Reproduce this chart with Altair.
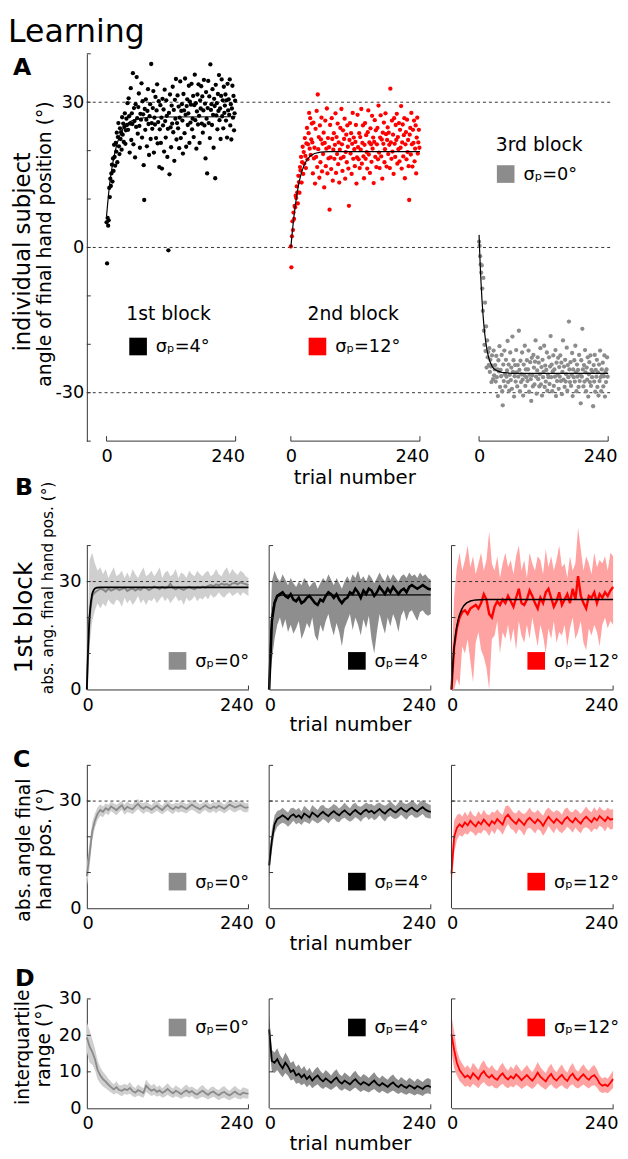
import altair as alt
import pandas as pd

FONT = "DejaVu Sans"
AX = "#333333"
GRAY = "#8c8c8c"
LIGHT = "#cfcfcf"
DARK = "#8e8e8e"
PINK = "#ffa2a2"
RED = "#ff0000"

SIG0 = "σₚ=0°"
SIG4 = "σₚ=4°"
SIG12 = "σₚ=12°"

# ---------------- Panel A: individual subject, one value per trial ----------------
block1 = [
    5.2, -3.3, 6.1, 4.5, 5.6, 12.3, 10.4, 14.2, 12.7, 15.3, 17.1, 13.6, 18.4, 15.8, 21.2, 18.7, 16.9, 21.6, 19.8, 23.7,
    17.6, 22.8, 25.7, 20.9, 19.3, 24.6, 22.4, 23.8, 20.2, 26.9, 23.3, 25.6, 21.8, 24.9, 27.7, 21.4, 24.2, 26.6, 25.3, 29.8,
    24.3, 30.8, 27.1, 19.6, 25.6, 32.9, 22.2, 27.7, 25.5, 36.0, 21.3, 28.8, 26.1, 18.6, 29.6, 24.9, 35.2, 26.7, 23.5, 29.0,
    31.8, 25.1, 20.6, 27.6, 26.4, 33.9, 22.7, 30.2, 27.5, 17.0, 9.8, 28.6, 24.3, 30.6, 26.4, 20.9, 28.2, 32.7, 25.5, 19.1,
    27.1, 29.6, 22.4, 37.9, 25.7, 24.5, 28.8, 32.3, 19.6, 26.8, 25.4, 31.1, 22.6, 28.3, 33.7, 21.5, 25.9, 30.2, 16.6, 24.4,
    29.4, 21.6, 26.8, 16.3, 30.7, 25.2, 28.5, 19.8, 32.6, 26.1, 22.7, 30.4, 27.2, 18.7, 24.5, -0.6, 27.8, 15.1, 31.6, 24.8,
    20.7, 29.3, 25.6, 33.2, 23.8, 28.4, 17.9, 30.5, 26.6, 34.8, 22.3, 25.7, 31.4, 24.6, 29.1, 20.5, 26.8, 34.3, 22.6, 28.2,
    29.6, 26.2, 19.4, 31.7, 28.3, 23.6, 34.9, 27.4, 20.8, 29.2, 30.6, 25.3, 27.7, 33.4, 21.6, 30.1, 25.8, 29.5, 33.8, 24.4,
    26.6, 31.3, 22.8, 29.4, 35.7, 26.3, 29.8, 20.4, 28.1, 31.6, 25.4, 33.7, 27.2, 21.6, 30.4, 28.7, 33.3, 25.6, 31.2, 23.7,
    28.3, 34.6, 25.2, 29.7, 18.4, 32.1, 26.6, 15.3, 28.8, 34.4, 25.7, 31.2, 22.6, 37.8, 28.4, 29.6, 25.3, 32.7, 27.4, 20.6,
    30.7, 29.2, 14.3, 33.6, 27.3, 29.8, 24.4, 31.7, 28.2, 35.6, 26.3, 28.7, 22.4, 31.3, 34.7, 27.1, 30.4, 24.6, 33.2, 27.8,
    29.3, 31.6, 26.2, 30.4, 22.7, 33.8, 28.3, 30.6, 27.4, 34.7, 25.2, 29.6, 22.3, 28.7, 33.4, 26.8, 31.3, 24.2, 27.7, 30.3,
]
block2 = [
    0.2, -4.1, 2.3, 5.4, 3.6, 7.2, 5.9, 8.6, 8.3, 10.7, 10.2, 12.6, 11.4, 9.1, 14.8, 13.5, 11.3, 16.6, 15.9, 18.7,
    13.4, 17.6, 20.8, 15.2, 19.7, 17.3, 22.6, 18.9, 16.4, 21.5, 24.7, 18.2, 21.3, 23.6, 27.8, 20.4, 26.7, 19.1, 22.3, 25.6,
    21.7, 15.3, 25.8, 18.4, 20.6, 13.2, 24.5, 18.7, 28.2, 16.6, 31.6, 20.3, 22.8, 14.4, 25.2, 17.6, 22.3, 26.8, 15.7, 21.4,
    19.3, 23.7, 12.4, 21.6, 26.2, 16.8, 20.4, 28.7, 15.3, 22.6, 18.4, 20.7, 7.8, 25.3, 18.6, 16.2, 26.7, 22.4, 13.8, 20.2,
    23.6, 18.3, 21.2, 27.7, 15.4, 22.8, 19.3, 25.6, 17.2, 21.7, 13.4, 20.2, 24.7, 18.4, 28.6, 21.3, 15.8, 24.2, 18.7, 22.4,
    26.6, 14.2, 19.7, 23.3, 17.6, 25.2, 20.8, 16.3, 8.6, 22.2, 25.7, 19.4, 23.6, 15.2, 21.4, 27.8, 18.3, 22.7, 20.3, 16.8,
    21.8, 25.3, 13.2, 18.6, 27.4, 20.7, 18.2, 23.6, 16.4, 22.8, 20.2, 28.6, 17.3, 21.6, 25.2, 18.8, 14.3, 21.2, 25.7, 18.3,
    23.2, 19.7, 16.3, 23.8, 28.3, 19.2, 21.7, 15.4, 24.6, 21.3, 17.7, 27.2, 20.4, 22.7, 13.3, 21.8, 26.3, 18.7, 24.2, 16.6,
    21.3, 24.7, 18.2, 29.3, 19.6, 16.4, 22.7, 27.3, 18.8, 22.3, 14.2, 23.7, 21.4, 25.8, 17.6, 20.3, 27.7, 23.4, 16.7, 22.2,
    24.8, 19.3, 23.7, 21.2, 16.4, 32.8, 21.7, 18.3, 26.2, 19.8, 23.3, 15.2, 26.7, 21.4, 18.7, 25.3, 22.2, 27.6, 17.3, 22.8,
    20.3, 25.7, 17.8, 24.3, 20.6, 29.2, 16.3, 21.7, 25.4, 18.8, 23.2, 26.7, 14.3, 21.3, 23.8, 18.2, 26.4, 19.7, 22.2, 16.8,
    9.8, 23.3, 24.7, 19.2, 27.8, 21.3, 16.7, 24.3, 21.6, 26.2, 17.8, 20.4, 25.2, 15.3, 22.7, 26.8, 19.4, 21.7, 24.3, 20.6,
]
block3 = [
    1.2, 0.3, -1.8, -3.5, -5.2, -3.7, -8.5, -13.1, -6.3, -17.2, -20.1, -11.4, -21.4, -16.3, -24.8, -19.2, -22.7, -21.6, -24.3, -20.8,
    -25.7, -23.2, -24.6, -27.8, -22.3, -24.4, -27.2, -21.3, -26.4, -25.2,
    -24.3, -27.7, -22.4, -26.8, -25.2, -30.7, -23.3, -25.6, -20.4, -28.8, -25.3, -26.6, -22.2, -29.7, -32.6, -24.2, -27.6, -21.3, -26.2, -28.7,
    -23.2, -26.7, -25.4, -19.3, -27.8, -24.2, -29.6, -26.3, -21.7, -27.4, -24.8, -29.2, -18.4, -25.7, -23.3, -30.8, -26.6, -24.3, -27.7, -21.2,
    -25.8, -28.7, -24.3, -26.7, -17.2, -25.3, -29.7, -23.4, -27.8, -26.2, -21.7, -27.3, -30.6, -24.2, -26.4, -20.3, -28.6, -25.2, -26.8, -23.3,
    -27.6, -25.2, -21.3, -29.8, -26.3, -23.7, -27.2, -31.7, -22.8, -26.4, -28.7, -22.2, -24.8, -28.3, -23.6, -19.2, -26.7, -30.2, -25.4, -22.7,
    -27.2, -23.8, -28.7, -26.2, -20.8, -28.3, -24.7, -30.6, -23.2, -26.8, -25.7, -20.3, -28.8, -24.4, -27.7, -25.3, -21.7, -29.6, -26.3, -26.8,
    -22.7, -28.2, -24.6, -18.3, -26.8, -24.2, -29.7, -25.6, -22.3, -28.6, -25.2, -26.7, -21.2, -30.7, -23.8, -27.6, -26.3, -22.8, -29.2, -24.7,
    -26.7, -22.3, -27.6, -23.8, -30.3, -25.7, -19.2, -27.3, -24.6, -28.8, -23.2, -27.7, -26.2, -20.7, -29.6, -24.3, -26.8, -15.3, -25.2, -27.8,
    -23.7, -28.6, -26.3, -21.8, -30.7, -25.2, -26.8, -23.3, -27.7, -20.3, -25.8, -29.7, -24.2, -26.7, -25.3, -28.8, -22.2, -27.6, -26.3, -32.2,
    -23.3, -26.7, -16.8, -25.2, -28.7, -24.3, -27.7, -21.2, -25.8, -29.7, -24.8, -27.3, -22.7, -30.8, -26.2, -23.7, -27.8, -22.3, -28.6, -25.3,
    -26.8, -25.7, -32.8, -24.3, -27.7, -22.2, -29.8, -25.3, -26.7, -23.2, -28.8, -25.8, -30.6, -24.2, -27.6, -21.3, -26.8, -29.7, -25.2, -26.3,
    -23.8, -28.7, -26.6, -22.3, -30.8, -25.7, -27.8, -25.2, -22.7, -26.7,
]
fitA1_t = [0, 2, 4, 6, 8, 10, 13, 16, 20, 25, 30, 36, 44, 55, 70, 100, 240]
fitA1_v = [6.5, 9, 11.3, 13.3, 15, 16.4, 18.3, 19.9, 21.6, 23.2, 24.4, 25.3, 26, 26.5, 26.8, 26.95, 27]
fitA2_t = [0, 2, 4, 6, 8, 10, 13, 16, 20, 25, 30, 36, 44, 55, 70, 240]
fitA2_v = [0, 2.4, 4.6, 6.6, 8.4, 10, 12.1, 13.8, 15.6, 17.1, 18.1, 18.9, 19.4, 19.7, 19.8, 19.8]
fitA3_t = [0, 1, 2, 3, 4, 5, 6, 7, 8, 9, 10, 12, 14, 16, 18, 20, 24, 28, 34, 42, 60, 240]
fitA3_v = [2.6, -0.5, -3.3, -5.8, -8, -10, -11.8, -13.4, -14.8, -16.1, -17.3, -19.2, -20.7, -21.9,
           -22.8, -23.5, -24.5, -25.1, -25.5, -25.8, -26, -26]

# ---------------- Panel B: 1st block, group (sampled every 4 trials) ----------------
B1_mean = [0, 20, 26, 27, 27.5, 28, 27.8, 27.2, 28, 27.5,
           27.8, 28.2, 27.6, 27.9, 28.3, 27.4, 27.8, 28.1, 27.5, 28,
           27.7, 28.4, 28.2, 27.6, 28, 28.6, 28.3, 27.9, 28.5, 28.1,
           28.4, 29.4, 28.2, 27.8, 28.3, 28, 27.7, 28.2, 28.5, 28.1,
           27.9, 28.4, 28.2, 28.6, 28.3, 28.8, 29, 28.7, 29.2, 28.9,
           29.4, 29.1, 29.3, 28.9, 29.5, 29.6, 29.2, 29.8, 29.5, 29.3, 29]
B1_hi = [5, 36, 38, 35, 33, 34, 32, 33.5, 31, 32.5,
         34, 31.5, 32, 33, 31, 32.5, 31, 33.5, 32, 31,
         32.5, 34, 31.5, 32, 33, 31.5, 32.5, 34, 31, 32.5,
         33, 31.5, 32, 33.5, 31, 32.5, 32, 31, 33, 32,
         31.5, 33, 32, 31.5, 32.5, 33, 31.5, 32, 33.5, 32,
         31.5, 33, 34, 32, 33.5, 32.5, 31.8, 33, 32.5, 31.5, 31]
B1_lo = [0, 12, 19, 22, 24, 22.5, 24, 23, 25, 24,
         23.5, 25, 24.5, 23, 25.5, 24, 25, 23.5, 24.5, 26,
         24, 25, 23.5, 25, 24.5, 25.5, 24, 25, 26, 24.5,
         25.5, 24, 25, 26, 24.5, 25, 23.5, 25.5, 24.5, 25,
         26, 24.5, 25.5, 25, 26, 25, 26.5, 25.5, 26, 27,
         26, 25.5, 26.5, 27, 26, 26.5, 27, 26, 27, 26.5, 26]
B2_mean = [0, 19, 24, 26, 26.5, 27, 26, 25.5, 26.5, 25,
           24.5, 25.5, 24, 24.5, 25.5, 26, 25, 24, 23.5, 25,
           24.5, 26, 27, 26.5, 25.5, 26.5, 25, 24, 25, 25.5,
           27, 26.5, 28, 27, 25.5, 27.5, 26.5, 28, 27.5, 26,
           27, 28.5, 27.5, 26.5, 28, 27, 28.5, 27.5, 26.5, 27.5,
           28, 27, 28.5, 29, 28.5, 28, 28.5, 29, 28.5, 28, 27.8]
B2_hi = [4, 30, 33, 31, 30, 32, 30.5, 29, 31, 29.5,
         28.5, 30, 29, 31, 30, 28.5, 29.5, 30, 28, 29.5,
         31, 30, 32, 30.5, 29, 31, 29.5, 28, 30, 31.5,
         30, 32, 31, 33, 30.5, 31.5, 30, 32, 31, 29.5,
         31, 32.5, 31, 30, 32, 30.5, 32, 31, 30, 31.5,
         32, 31, 32.5, 31.5, 32, 31, 32.5, 31.5, 32, 31, 30.5]
B2_lo = [0, 8, 14, 18, 20, 17, 19.5, 16, 18, 15.5,
         17, 19, 14, 16, 18.5, 17, 20, 15, 13.5, 18,
         16, 19, 21, 17.5, 15, 18.5, 16, 12, 17, 19,
         21, 16.5, 20, 18, 15, 19.5, 17, 20.5, 14, 10,
         16, 21, 18, 15.5, 20, 17.5, 21, 19, 16, 20.5,
         22, 19, 21.5, 22, 20.5, 19, 21.5, 22, 21, 20.5, 21]
B3_mean = [0, 12, 17, 20, 21.5, 22, 21, 22.5, 23, 23.5,
           22.5, 24, 26.5, 25, 21, 20, 23, 24.5, 23.5, 25,
           24, 26, 24.5, 23, 25.5, 28, 24, 23.5, 25, 27.5,
           26, 24, 22.5, 25.5, 24, 27, 28, 25.5, 23, 24.5,
           27, 23.5, 25, 26.5, 24, 28, 25, 31.5, 26, 24,
           22.5, 26, 25.5, 27, 24, 26.5, 25.5, 27, 26, 27.5, 28.5]
B3_hi = [5, 26, 34, 38, 33, 36, 40, 34, 37, 32,
         35, 38, 33, 36, 44, 35, 33, 37, 31, 35,
         38, 34, 36, 32, 37, 40, 33, 36, 31, 38,
         35, 33, 37, 36, 32, 39, 34, 37, 33, 36,
         40, 34, 35, 31, 37, 33, 35, 45, 39, 33,
         37, 35, 32, 38, 34, 36, 35, 37, 33, 38, 37]
B3_lo = [0, 0, 3, 1, 12, 10, 14, 8, 2, 13,
         16, 11, 9, 6, 0, 14, 15, 19, 10, 16,
         14, 18, 13, 17, 11, 19, 15, 13, 18, 14,
         20, 16, 12, 18, 15, 10, 17, 14, 19, 13,
         16, 15, 18, 12, 17, 20, 14, 16, 19, 13,
         11, 17, 15, 18, 16, 12, 18, 20, 17, 19, 18]
fitB1_t = [0, 1, 2, 3, 4, 5, 6, 8, 10, 12, 15, 20, 240]
fitB1_v = [0, 6.5, 12, 16.5, 20, 22.5, 24.3, 26.6, 27.6, 28.1, 28.3, 28.4, 28.4]
fitB2_t = [0, 1, 2, 3, 4, 5, 6, 8, 10, 13, 18, 240]
fitB2_v = [0, 7, 12.5, 16.3, 19.2, 21.2, 22.7, 24.5, 25.4, 25.9, 26.2, 26.3]
fitB3_t = [0, 1, 2, 3, 4, 6, 8, 10, 12, 15, 18, 22, 28, 36, 50, 240]
fitB3_v = [0, 3.5, 6.7, 9.4, 11.7, 15.2, 17.7, 19.5, 20.8, 22.2, 23.2, 24, 24.6, 24.9, 25, 25]

# ---------------- Panel C: abs. angle final hand pos. (mean and spread) ----------------
C1_mean = [9, 15, 21.5, 24.5, 26.5, 27.5, 27, 28, 27.5, 28.5,
           28, 27.5, 28.2, 28.8, 27.6, 28.4, 28, 27.7, 28.6, 29.2,
           28.3, 27.9, 28.5, 28.1, 27.6, 28.2, 28.7, 28, 27.5, 28.3,
           28.9, 28.1, 27.7, 28.4, 28, 28.6, 28.2, 27.8, 28.4, 29,
           28.5, 28.1, 27.7, 28.3, 28.8, 28.2, 27.9, 28.5, 28.1, 28.7,
           28.3, 27.8, 28.4, 29, 28.6, 28.2, 28.5, 28.9, 28.4, 28.1, 28.3]
C1_sd = [3, 3.5, 2.5, 2, 1.8, 1.6, 1.5, 1.4, 1.5, 1.3, 1.4, 1.5, 1.3, 1.2, 1.4, 1.5, 1.3, 1.4, 1.6, 1.4,
         1.3, 1.5, 1.4, 1.2, 1.3, 1.5, 1.4, 1.3, 1.2, 1.4, 1.5, 1.3, 1.4, 1.2, 1.3, 1.5, 1.4, 1.3, 1.2, 1.4,
         1.3, 1.5, 1.4, 1.2, 1.3, 1.4, 1.2, 1.3, 1.5, 1.4, 1.3, 1.2, 1.4, 1.3, 1.5, 1.4, 1.2, 1.3, 1.4, 1.3, 1.2]
C2_mean = [12, 19, 23.5, 25, 25.5, 26, 25.5, 24.8, 25.8, 26.3,
           25.5, 26, 25.2, 26.5, 26, 25.4, 26.8, 26.2, 25.6, 26.4,
           27, 26.3, 25.8, 26.6, 27.2, 26.5, 26, 26.8, 27.4, 26.7,
           26.1, 26.9, 27.5, 26.8, 26.3, 27.1, 27.6, 26.9, 27.3, 26.6,
           27.2, 27.8, 27, 26.5, 27.3, 27.9, 27.2, 26.8, 27.5, 28.1,
           27.4, 27, 27.7, 28.2, 27.5, 27.1, 27.8, 28.3, 27.6, 27.2, 27]
C2_sd = [3, 3, 2.5, 2.2, 2, 2.1, 1.9, 2, 2.2, 1.8, 2, 2.1, 1.9, 2.2, 2, 1.8, 2.1, 2, 1.9, 2.2,
         2, 1.8, 2.1, 1.9, 2, 2.2, 1.9, 1.8, 2.1, 2, 1.9, 2.2, 2, 1.8, 2.1, 1.9, 2, 2.2, 1.9, 2,
         2.1, 1.8, 2, 2.2, 1.9, 2.1, 2, 1.8, 2.1, 1.9, 2, 2.2, 1.9, 2, 2.1, 1.8, 2, 1.9, 2.1, 2, 1.9]
C3_mean = [9.7, 20, 22.5, 23.5, 22.8, 24, 23.2, 24.5, 23.6, 22.9,
           24.2, 23.5, 24.8, 23.9, 23.1, 24.4, 23.7, 25, 24.2, 23.4,
           25.4, 26.2, 25.1, 24.3, 23.6, 24.9, 24.1, 23.3, 24.6, 25.3,
           24.5, 23.8, 24.9, 24.2, 23.1, 24.4, 25.6, 24.7, 23.9, 25,
           24.3, 23.6, 24.8, 25.5, 24.6, 24, 25.2, 24.4, 23.7, 24.9,
           25.6, 24.8, 24.1, 25.3, 24.6, 25.8, 25.1, 24.4, 25.5, 24.8, 25]
C3_sd = [4, 4.5, 3.5, 3, 2.8, 3, 2.6, 2.9, 2.5, 2.7, 3, 2.6, 2.8, 2.5, 2.9, 2.6, 3, 2.7, 2.5, 2.8,
         3.1, 2.6, 2.8, 2.5, 2.9, 2.7, 2.6, 3, 2.5, 2.8, 2.6, 2.9, 2.7, 2.5, 2.8, 3, 2.6, 2.7, 2.9, 2.5,
         2.8, 2.6, 3, 2.7, 2.5, 2.9, 2.6, 2.8, 2.7, 2.5, 2.9, 2.6, 2.8, 3, 2.6, 2.7, 2.5, 2.9, 2.6, 2.8, 2.7]

# ---------------- Panel D: interquartile range ----------------
D1_mean = [19.5, 17, 15.5, 13.5, 10.5, 9, 8, 7.3, 6.5, 5.8,
           5.2, 5.8, 5, 4.8, 5.3, 5, 5.6, 4.7, 4.3, 5,
           4.6, 4.2, 6.2, 5.4, 4.8, 5.2, 4.5, 4.9, 4.2, 4.7,
           5.3, 4.6, 4.1, 4.8, 4.4, 3.9, 4.5, 4.9, 4.3, 4.7,
           4.1, 3.8, 4.4, 4.8, 4.2, 3.7, 4.3, 4.6, 4, 3.6,
           4.2, 4.5, 3.9, 3.5, 4.1, 4.6, 4, 3.7, 4.3, 4.1, 4]
D1_sd = [4, 4.5, 3.5, 3, 2.6, 2.2, 2, 1.8, 1.6, 1.5, 1.4, 1.6, 1.3, 1.5, 1.4, 1.3, 1.6, 1.4, 1.3, 1.5,
         1.4, 1.3, 1.7, 1.5, 1.4, 1.5, 1.3, 1.4, 1.3, 1.5, 1.6, 1.4, 1.3, 1.5, 1.4, 1.3, 1.5, 1.6, 1.4, 1.3,
         1.4, 1.3, 1.5, 1.6, 1.4, 1.3, 1.5, 1.4, 1.3, 1.4, 1.5, 1.6, 1.4, 1.3, 1.5, 1.6, 1.4, 1.3, 1.5, 1.4, 1.3]
D2_mean = [21.6, 13, 12.5, 13.5, 12, 11, 12.5, 11.5, 10, 10.5,
           9, 9.5, 8.5, 9.2, 8, 8.8, 7.6, 8.4, 9, 8,
           7.4, 8.2, 7.6, 7, 7.8, 8.4, 7.3, 6.8, 7.6, 7.1,
           6.6, 7.4, 8, 7.1, 6.5, 7.2, 6.8, 6.3, 7, 7.6,
           6.7, 6.2, 6.9, 6.4, 5.9, 6.6, 7.1, 6.3, 5.8, 6.5,
           6, 5.6, 6.3, 5.9, 5.4, 6.1, 5.7, 5.3, 6, 6.2, 5.8]
D2_sd = [4, 3, 2.8, 3, 2.6, 2.5, 2.8, 2.6, 2.4, 2.5, 2.3, 2.5, 2.2, 2.4, 2.2, 2.3, 2.1, 2.3, 2.4, 2.2,
         2.1, 2.3, 2.2, 2, 2.2, 2.3, 2.1, 2, 2.2, 2.1, 2, 2.2, 2.3, 2.1, 2, 2.2, 2.1, 2, 2.1, 2.3,
         2.1, 2, 2.1, 2, 1.9, 2.1, 2.2, 2, 1.9, 2.1, 2, 1.9, 2.1, 2, 1.9, 2.1, 2, 1.9, 2, 2.1, 2]
D3_mean = [20.3, 16, 12.5, 10.5, 9.5, 8.5, 9, 8.2, 9.6, 8.8,
           8, 9.4, 10.2, 9, 8.4, 9.1, 8.2, 7.8, 8.9, 9.6,
           8.5, 7.9, 8.8, 8.2, 9.3, 8.6, 7.7, 8.4, 9.1, 8.3,
           7.6, 8.5, 9.8, 8.7, 8, 7.4, 8.6, 9.4, 8.2, 7.6,
           8.5, 9.2, 8.1, 7.5, 8.8, 9.5, 8.3, 7.7, 8.6, 9.3,
           8.4, 7.8, 8.7, 9.1, 8.2, 6.8, 6.2, 6.5, 6.1, 7, 8]
D3_sd = [5, 5, 3.5, 3, 2.8, 2.6, 2.8, 2.5, 2.9, 2.7, 2.5, 2.8, 3, 2.7, 2.5, 2.8, 2.6, 2.4, 2.7, 2.9,
         2.6, 2.4, 2.7, 2.5, 2.8, 2.6, 2.4, 2.6, 2.8, 2.5, 2.3, 2.6, 2.9, 2.6, 2.4, 2.3, 2.6, 2.8, 2.5, 2.3,
         2.6, 2.8, 2.5, 2.3, 2.6, 2.9, 2.5, 2.3, 2.6, 2.8, 2.5, 2.4, 2.6, 2.8, 2.5, 2.2, 2, 2.1, 2, 2.2, 2.4]

TRIALS4 = list(range(0, 241, 4))
Y_TICKS_A = [-40, -30, -20, -10, 0, 10, 20, 30, 40]

# ---------------- layout constants (pixels inside each row) ----------------
A_H, A_W, A_ROW_W = 393, 131, 532
A_OFF = [20, 207, 398]            # where trial 0 of each block sits
P_W = 164                          # panel width in rows B-D
P_OFF = [0, 185, 370]              # left edge of each panel in rows B-D


# ---------------- helpers ----------------
def txt(text, x, y, size, angle=0, align="left", baseline="middle", weight="normal"):
    return alt.Chart(pd.DataFrame({"t": [text]})).mark_text(
        align=align, baseline=baseline, angle=angle, fontSize=size,
        fontWeight=weight, font=FONT, color="black"
    ).encode(text="t:N", x=alt.value(x), y=alt.value(y))


def legend(color, label, x, y, size=18, gap=18):
    sq = alt.Chart(pd.DataFrame({"a": [0]})).mark_square(
        size=320, color=color, opacity=1).encode(x=alt.value(x), y=alt.value(y))
    return [sq, txt(label, x + gap, y + 1, size)]


def vline(x, h):
    return alt.Chart(pd.DataFrame({"a": [0]})).mark_rule(color=AX, strokeWidth=1).encode(
        x=alt.value(x), y=alt.value(0), y2=alt.value(h))


# ---------------- Row A ----------------
yA = alt.Scale(domain=[-40, 40], nice=False, zero=False)
yaxA = alt.Axis(values=[-30, 0, 30], ticks=False, domain=True, labelFontSize=18, labelPadding=3,
                title=None, labelExpr="replace(datum.label, '\u2212', '-')")


def YA(f):
    return alt.Y(f, scale=yA, axis=yaxA)


def a_panel(vals, color, fit_t, fit_v, off, title):
    xs = alt.Scale(domain=[-4, 240], range=[off - 4 * A_W / 240, off + A_W], nice=False, zero=False)
    xax = alt.Axis(values=[0, 240], domain=False, ticks=False, labelFontSize=18, labelPadding=7,
                   labelFlush=True, labelFlushOffset=9, orient="bottom",
                   title=title, titleFontSize=20, titlePadding=2, titleFontWeight="normal")

    def X(f):
        return alt.X(f, scale=xs, axis=xax)

    df = pd.DataFrame({"trial": list(range(len(vals))), "val": vals})
    pts = alt.Chart(df).mark_circle(size=19, color=color, opacity=1).encode(
        x=X("trial:Q"), y=YA("val:Q"))
    fit = alt.Chart(pd.DataFrame({"t": fit_t, "v": fit_v})).mark_line(
        color="black", strokeWidth=1.2).encode(x=X("t:Q"), y=YA("v:Q"))
    br = alt.Chart(pd.DataFrame({"a": [0], "b": [240], "y": [-40]})).mark_rule(
        color=AX, strokeWidth=1).encode(x=X("a:Q"), x2="b:Q", y=YA("y:Q"))
    brt = alt.Chart(pd.DataFrame({"a": [0, 240]})).mark_rule(color=AX, strokeWidth=1).encode(
        x=X("a:Q"), y=alt.value(A_H), y2=alt.value(A_H - 5))
    return alt.layer(pts, fit, br, brt)


dashA = alt.Chart(pd.DataFrame({"v": [30, 0, -30]})).mark_rule(
    strokeDash=[3, 3], color=AX, strokeWidth=1).encode(
    y=YA("v:Q"), x=alt.value(0), x2=alt.value(A_ROW_W))
ticksA = alt.Chart(pd.DataFrame({"v": Y_TICKS_A})).mark_rule(color=AX, strokeWidth=1).encode(
    y=YA("v:Q"), x=alt.value(0), x2=alt.value(4))

rowA = alt.layer(
    dashA,
    a_panel(block1, "black", fitA1_t, fitA1_v, A_OFF[0], None),
    a_panel(block2, RED, fitA2_t, fitA2_v, A_OFF[1], "trial number"),
    a_panel(block3, GRAY, fitA3_t, fitA3_v, A_OFF[2], None),
    ticksA,
    txt("Learning", -80, -36.6, 32, baseline="top"),
    txt("A", -75, 3, 24, baseline="top", weight="bold"),
    txt("individual subject", -65, 201, 23, angle=270, align="center"),
    txt("angle of final hand position (°)", -42, 193, 19, angle=270, align="center"),
    txt("1st block", 40, 264, 19),
    *legend("black", SIG4, 52, 297),
    txt("2nd block", 224, 264, 19),
    *legend(RED, SIG12, 234, 297),
    txt("3rd block", 415, 93, 19),
    *legend(GRAY, SIG0, 425, 122),
).resolve_scale(x="independent").properties(width=A_ROW_W, height=A_H)


# ---------------- Rows B-D ----------------
def band_row(series, H, ymax, ylab, ytk, dashed, extra):
    ys = alt.Scale(domain=[0, ymax], nice=False, zero=False)
    yax = alt.Axis(values=ylab, ticks=False, domain=True, labelFontSize=18, labelPadding=6, title=None)

    def Y(f):
        return alt.Y(f, scale=ys, axis=yax)

    panels = []
    for i, s in enumerate(series):
        off = P_OFF[i]
        xs = alt.Scale(domain=[0, 240], range=[off, off + P_W], nice=False, zero=False)
        xax = alt.Axis(values=[0, 240], ticks=False, domain=True, labelFontSize=18, labelPadding=7,
                       labelFlush=True, labelFlushOffset=5, orient="bottom",
                       title="trial number" if i == 1 else None, titleFontSize=20,
                       titlePadding=1, titleFontWeight="normal")

        def X(f, xs=xs, xax=xax):
            return alt.X(f, scale=xs, axis=xax)

        rows = [{"t": t, "lo": a, "hi": b, "m": m}
                for t, a, b, m in zip(TRIALS4, s["lo"], s["hi"], s["mean"])]
        df = pd.DataFrame(rows)
        layers = [alt.Chart(df).mark_area(color=s["band"], opacity=1).encode(
            x=X("t:Q"), y=Y("lo:Q"), y2="hi:Q")]
        if dashed:
            layers.append(alt.Chart(pd.DataFrame({"a": [0], "b": [240], "y": [30]})).mark_rule(
                strokeDash=[3, 3], color=AX, strokeWidth=1).encode(
                x=X("a:Q"), x2="b:Q", y=Y("y:Q")))
        layers.append(alt.Chart(df).mark_line(color=s["line"], strokeWidth=s["lw"]).encode(
            x=X("t:Q"), y=Y("m:Q")))
        if s.get("fit_t"):
            layers.append(alt.Chart(pd.DataFrame({"t": s["fit_t"], "v": s["fit_v"]})).mark_line(
                color="black", strokeWidth=s["fw"]).encode(x=X("t:Q"), y=Y("v:Q")))
        layers.append(alt.Chart(pd.DataFrame({"v": [240]})).mark_rule(color=AX, strokeWidth=1).encode(
            x=X("v:Q"), y=alt.value(H), y2=alt.value(H - 4)))
        panels.append(alt.layer(*layers))

    deco = [vline(P_OFF[1], H), vline(P_OFF[2], H)]
    for off in P_OFF:
        deco.append(alt.Chart(pd.DataFrame({"v": ytk})).mark_rule(color=AX, strokeWidth=1).encode(
            y=Y("v:Q"), x=alt.value(off), x2=alt.value(off + 4)))
    return alt.layer(*panels, *deco, *extra).resolve_scale(x="independent").properties(
        width=P_OFF[2] + P_W, height=H)


B_H = 146
rowB = band_row(
    [dict(lo=B1_lo, hi=B1_hi, mean=B1_mean, band=LIGHT, line="#888888", lw=2, fit_t=fitB1_t, fit_v=fitB1_v, fw=1.8),
     dict(lo=B2_lo, hi=B2_hi, mean=B2_mean, band=DARK, line="black", lw=2.6, fit_t=fitB2_t, fit_v=fitB2_v, fw=1.3),
     dict(lo=B3_lo, hi=B3_hi, mean=B3_mean, band=PINK, line=RED, lw=2.4, fit_t=fitB3_t, fit_v=fitB3_v, fw=1.5)],
    B_H, 40, [0, 30], [10, 20, 30, 40], True,
    [txt("B", -73, -70, 24, baseline="top", weight="bold"),
     txt("1st block", -64, 73, 25, angle=270, align="center"),
     txt("abs. ang. final  hand pos. (°)", -39, 43, 15.5, angle=270, align="center"),
     *legend(GRAY, SIG0, 92, 117), *legend("black", SIG4, 274, 117), *legend(RED, SIG12, 456, 117)])


def band_from(mean, sd):
    return [m - s for m, s in zip(mean, sd)], [m + s for m, s in zip(mean, sd)]


C_H = 145
c1lo, c1hi = band_from(C1_mean, C1_sd)
c2lo, c2hi = band_from(C2_mean, C2_sd)
c3lo, c3hi = band_from(C3_mean, C3_sd)
rowC = band_row(
    [dict(lo=c1lo, hi=c1hi, mean=C1_mean, band=LIGHT, line="#8a8a8a", lw=1.8),
     dict(lo=c2lo, hi=c2hi, mean=C2_mean, band="#9a9a9a", line="black", lw=1.8),
     dict(lo=c3lo, hi=c3hi, mean=C3_mean, band=PINK, line=RED, lw=1.8)],
    C_H, 40, [0, 30], [10, 20, 30, 40], True,
    [txt("C", -75, -17, 24, baseline="top", weight="bold"),
     txt("abs. angle final", -64, 86, 19, angle=270, align="center"),
     txt("hand pos. (°)", -42, 85, 19, angle=270, align="center"),
     *legend(GRAY, SIG0, 92, 118), *legend("black", SIG4, 274, 118), *legend(RED, SIG12, 456, 118)])

D_H = 111
d1lo, d1hi = band_from(D1_mean, D1_sd)
d2lo, d2hi = band_from(D2_mean, D2_sd)
d3lo, d3hi = band_from(D3_mean, D3_sd)
rowD = band_row(
    [dict(lo=d1lo, hi=d1hi, mean=D1_mean, band=LIGHT, line="#8a8a8a", lw=1.8),
     dict(lo=d2lo, hi=d2hi, mean=D2_mean, band=DARK, line="black", lw=1.8),
     dict(lo=d3lo, hi=d3hi, mean=D3_mean, band=PINK, line=RED, lw=1.8)],
    D_H, 30, [0, 10, 20, 30], [10, 20, 30], False,
    [txt("D", -73, -32, 24, baseline="top", weight="bold"),
     txt("interquartile", -65, 49, 19, angle=270, align="center"),
     txt("range  (°)", -43, 47, 19, angle=270, align="center"),
     *legend(GRAY, SIG0, 92, 29), *legend("black", SIG4, 274, 29), *legend(RED, SIG12, 456, 29)])


def spacer(h):
    return alt.Chart(pd.DataFrame({"a": [0]})).mark_point(opacity=0).encode(
        x=alt.value(0), y=alt.value(0)).properties(width=10, height=h)


chart = alt.vconcat(rowA, spacer(106), rowB, spacer(77), rowC, spacer(92), rowD,
                    spacing=0, bounds="flush").properties(padding=0)

chart = chart.configure_view(stroke=None).configure_axis(
    grid=False, labelFont=FONT, titleFont=FONT, labelColor="black", titleColor="black",
    domainColor=AX, domainWidth=1, titleFontWeight="normal"
).configure_text(font=FONT)

chart.save("out.html", embed_options={"renderer": "svg", "actions": False})
